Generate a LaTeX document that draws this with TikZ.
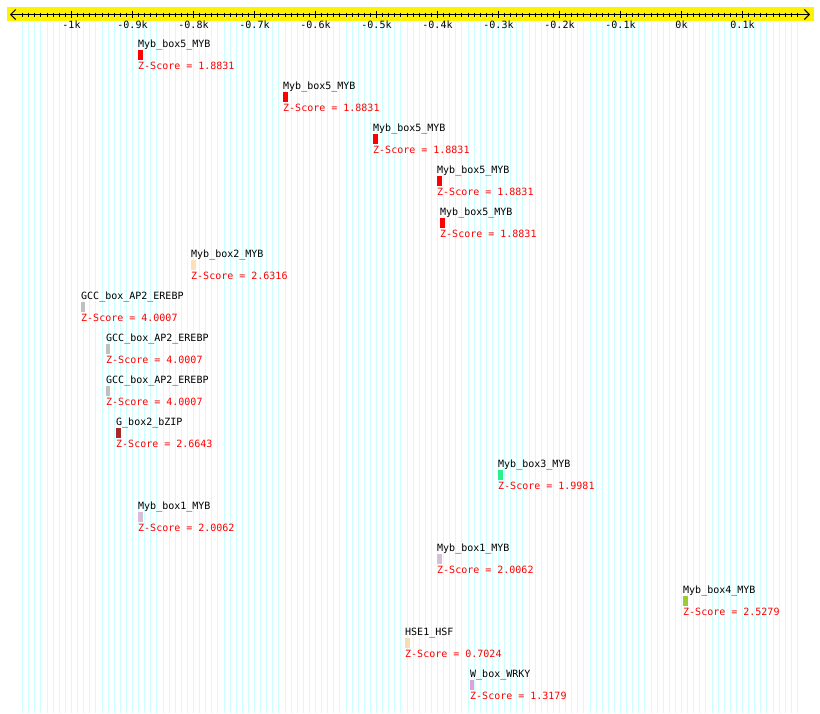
\documentclass[tikz,border=0pt]{standalone}
\usepackage{fontspec}
\setmonofont{DejaVu Sans Mono}
\usetikzlibrary{arrows.meta}
\definecolor{gridc}{RGB}{204,255,255}
\definecolor{mybfive}{RGB}{255,0,0}
\definecolor{mybtwo}{RGB}{253,225,180}
\definecolor{gccc}{RGB}{192,192,192}
\definecolor{gboxc}{RGB}{168,40,40}
\definecolor{mybthree}{RGB}{40,240,140}
\definecolor{mybone}{RGB}{216,191,216}
\definecolor{mybfour}{RGB}{154,205,50}
\definecolor{hsec}{RGB}{245,222,179}
\definecolor{wboxc}{RGB}{221,160,221}
\begin{document}
\begin{tikzpicture}[x=1pt,y=-1pt,
  lbl/.style={font=\ttfamily\fontsize{10}{12}\selectfont, inner sep=0pt, anchor=base west},
  zlbl/.style={lbl, text=red},
  ticklbl/.style={font=\ttfamily\fontsize{10}{12}\selectfont, inner sep=0pt, anchor=base},
  motif/.style={draw=none, inner sep=0pt, minimum height=10pt, anchor=north west},
  axisline/.style={line width=1pt, black},
  gridline/.style={gridc, line width=1pt}]
\useasboundingbox[fill=white] (0,0) rectangle (820,713);
% grid
\foreach \k in {-108,...,19} {
  \draw[gridline] ({681.5+6.1*\k},21) -- ({681.5+6.1*\k},713);
}
% axis band
\fill[yellow] (7,7) rectangle (814,21);
\coordinate (al) at (10,14.5);
\coordinate (ar) at (810,14.5);
\draw[axisline, {Straight Barb[length=5pt,width=10pt]}-{Straight Barb[length=5pt,width=10pt]}] (al) -- (ar);
\foreach \k in {-108,...,19} {
  \draw[axisline] ({681.5+6.1*\k},12.5) -- ({681.5+6.1*\k},16.5);
}
\foreach \k/\lab in {-10/-1k,-9/-0.9k,-8/-0.8k,-7/-0.7k,-6/-0.6k,-5/-0.5k,-4/-0.4k,-3/-0.3k,-2/-0.2k,-1/-0.1k,0/0k,1/0.1k} {
  \draw[axisline] ({681.5+61*\k},10.5) -- ({681.5+61*\k},17.5);
  \node[ticklbl] (t\k) at ({681.5+61*\k},28) {\lab};
}
% motifs
\foreach \x/\nm/\col/\w/\z [count=\i from 0] in {
  138/Myb\_box5\_MYB/mybfive/5/1.8831,
  283/Myb\_box5\_MYB/mybfive/5/1.8831,
  373/Myb\_box5\_MYB/mybfive/5/1.8831,
  437/Myb\_box5\_MYB/mybfive/5/1.8831,
  440/Myb\_box5\_MYB/mybfive/5/1.8831,
  191/Myb\_box2\_MYB/mybtwo/5/2.6316,
  81/GCC\_box\_AP2\_EREBP/gccc/4/4.0007,
  106/GCC\_box\_AP2\_EREBP/gccc/4/4.0007,
  106/GCC\_box\_AP2\_EREBP/gccc/4/4.0007,
  116/G\_box2\_bZIP/gboxc/5/2.6643,
  498/Myb\_box3\_MYB/mybthree/5/1.9981,
  138/Myb\_box1\_MYB/mybone/5/2.0062,
  437/Myb\_box1\_MYB/mybone/5/2.0062,
  683/Myb\_box4\_MYB/mybfour/5/2.5279,
  405/HSE1\_HSF/hsec/5/0.7024,
  470/W\_box\_WRKY/wboxc/4/1.3179} {
  \pgfmathsetmacro\yn{47.5+42*\i}
  \pgfmathsetmacro\yb{49.5+42*\i}
  \pgfmathsetmacro\yz{69+42*\i}
  \node[lbl] (name\i) at (\x,\yn) {\nm};
  \node[motif, fill=\col, minimum width=\w pt] (box\i) at (\x,\yb) {};
  \node[zlbl] (z\i) at (\x,\yz) {Z-Score = \z};
}
\end{tikzpicture}
\end{document}
